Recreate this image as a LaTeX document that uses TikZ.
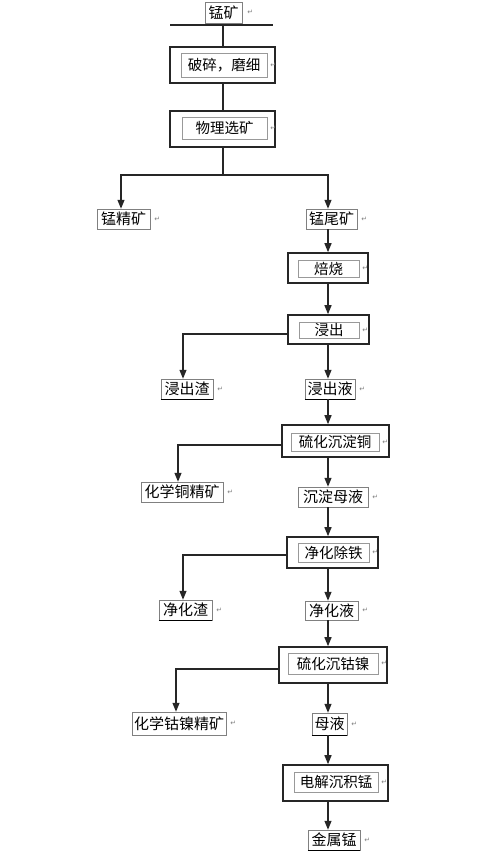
\documentclass[tikz,border=0pt]{standalone}
\usepackage{fontspec}
\newfontfamily\cjk{Noto Sans CJK SC}
\newfontfamily\dv{DejaVu Sans}
\usetikzlibrary{arrows.meta}
\begin{document}
\begin{tikzpicture}[x=1pt,y=-1pt,
  outer/.style={draw=black!85,line width=1.6pt,inner sep=0pt},
  inner/.style={draw=black!40,line width=0.5pt,inner sep=0pt,font=\cjk\fontsize{14.5}{14.5}\selectfont},
  lab/.style={draw=black!50,line width=0.5pt,inner sep=0pt,font=\cjk\fontsize{15}{15}\selectfont},
  conn/.style={draw=black!85,line width=1.3pt},
  arr/.style={conn,-{Triangle[length=9pt,width=7pt]}},
  pm/.style={font=\dv\fontsize{7}{7}\selectfont,text=black!50,inner sep=0pt}]
\useasboundingbox[fill=white] (0,0) rectangle (500,861);

% top
\node[lab,minimum width=37pt,minimum height=21pt] (ore) at (223.5,12.5) {锰矿};
\node[pm,right=5pt] (pm0) at (ore.east) {↵};
\coordinate (tl) at (170,25);
\coordinate (tr) at (273,25);
\draw[conn] (tl) -- (tr);

% main boxes
\node[outer,minimum width=105pt,minimum height=36pt] (B1) at (222.5,65) {};
\node[inner,minimum width=86pt,minimum height=24pt] (I1) at (224,65) {破碎，磨细};
\node[pm,right=3pt] at (I1.east) {↵};
\node[outer,minimum width=105pt,minimum height=36pt] (B2) at (222.5,129) {};
\node[inner,minimum width=85pt,minimum height=22pt] (I2) at (224.5,128) {物理选矿};
\node[pm,right=3pt] at (I2.east) {↵};
\node[outer,minimum width=80pt,minimum height=30pt] (B3) at (328,268) {};
\node[inner,minimum width=61pt,minimum height=17pt] (I3) at (328.5,268.5) {焙烧};
\node[pm,right=3pt] at (I3.east) {↵};
\node[outer,minimum width=81pt,minimum height=29pt] (B4) at (328.5,329.5) {};
\node[inner,minimum width=60pt,minimum height=16pt] (I4) at (329,330) {浸出};
\node[pm,right=3pt] at (I4.east) {↵};
\node[outer,minimum width=107pt,minimum height=32pt] (B5) at (335.5,441) {};
\node[inner,minimum width=88pt,minimum height=18pt] (I5) at (335,442) {硫化沉淀铜};
\node[pm,right=3pt] at (I5.east) {↵};
\node[outer,minimum width=91pt,minimum height=31pt] (B6) at (332.5,552.5) {};
\node[inner,minimum width=71pt,minimum height=19pt] (I6) at (333.5,552.5) {净化除铁};
\node[pm,right=3pt] at (I6.east) {↵};
\node[outer,minimum width=108pt,minimum height=36pt] (B7) at (333,665) {};
\node[inner,minimum width=90pt,minimum height=21pt] (I7) at (333,663.5) {硫化沉钴镍};
\node[pm,right=3pt] at (I7.east) {↵};
\node[outer,minimum width=105pt,minimum height=36pt] (B8) at (335.5,783) {};
\node[inner,minimum width=84pt,minimum height=20pt] (I8) at (336,782) {电解沉积锰};
\node[pm,right=3pt] at (I8.east) {↵};

% labels
\node[lab,minimum width=53pt,minimum height=20pt] (L1) at (123.5,219) {锰精矿};
\node[lab,minimum width=51pt,minimum height=20pt] (L2) at (331.5,219) {锰尾矿};
\node[lab,minimum width=52pt,minimum height=20pt] (L3) at (187,389) {浸出渣};
\node[lab,minimum width=50pt,minimum height=20pt] (L4) at (330,389) {浸出液};
\node[lab,minimum width=82pt,minimum height=20pt] (L5) at (182,492) {化学铜精矿};
\node[lab,minimum width=70pt,minimum height=20pt] (L6) at (333,497) {沉淀母液};
\node[lab,minimum width=53pt,minimum height=20pt] (L7) at (185.5,610) {净化渣};
\node[lab,minimum width=53pt,minimum height=19pt] (L8) at (331.5,610.5) {净化液};
\node[lab,minimum width=94pt,minimum height=23pt] (L9) at (179,723.5) {化学钴镍精矿};
\node[lab,minimum width=35pt,minimum height=22pt] (L10) at (329.5,724) {母液};
\node[lab,minimum width=52pt,minimum height=20pt] (L11) at (334,840) {金属锰};
\foreach \l in {L1,L2,L3,L4,L5,L6,L7,L8,L9,L10,L11}
  \node[pm,right=4pt] (pm\l) at (\l.east) {↵};
\foreach \l in {L3,L4,L7,L10,L11}
  \draw[black,line width=0.8pt] (\l.south west) -- (\l.south east);

% column coordinates
\coordinate (cA) at (223,0);
\coordinate (cR) at (328,0);
\coordinate (s1) at (223,175);
\coordinate (s1l) at (121,175);
\coordinate (s1r) at (328,175);
\coordinate (s2) at (183,334);
\coordinate (s3) at (178,445);
\coordinate (s4) at (183,555);
\coordinate (s5) at (176,669);

% connectors
\draw[conn] (tl -| cA) -- (B1.north -| cA);
\draw[conn] (B1.south -| cA) -- (B2.north -| cA);
\draw[conn] (B2.south -| cA) -- (s1);
\draw[arr] (s1) -- (s1l) -- (L1.north -| s1l);
\draw[arr] (s1) -- (s1r) -- (L2.north -| s1r);
\draw[arr] (L2.south -| cR) -- (B3.north -| cR);
\draw[arr] (B3.south -| cR) -- (B4.north -| cR);
\draw[arr] (B4.west |- s2) -- (s2) -- (L3.north -| s2);
\draw[arr] (B4.south -| cR) -- (L4.north -| cR);
\draw[arr] (L4.south -| cR) -- (B5.north -| cR);
\draw[arr] (B5.west |- s3) -- (s3) -- (L5.north -| s3);
\draw[arr] (B5.south -| cR) -- (L6.north -| cR);
\draw[arr] (L6.south -| cR) -- (B6.north -| cR);
\draw[arr] (B6.west |- s4) -- (s4) -- (L7.north -| s4);
\draw[arr] (B6.south -| cR) -- (L8.north -| cR);
\draw[arr] (L8.south -| cR) -- (B7.north -| cR);
\draw[arr] (B7.west |- s5) -- (s5) -- (L9.north -| s5);
\draw[arr] (B7.south -| cR) -- (L10.north -| cR);
\draw[arr] (L10.south -| cR) -- (B8.north -| cR);
\draw[arr] (B8.south -| cR) -- (L11.north -| cR);
\end{tikzpicture}
\end{document}
